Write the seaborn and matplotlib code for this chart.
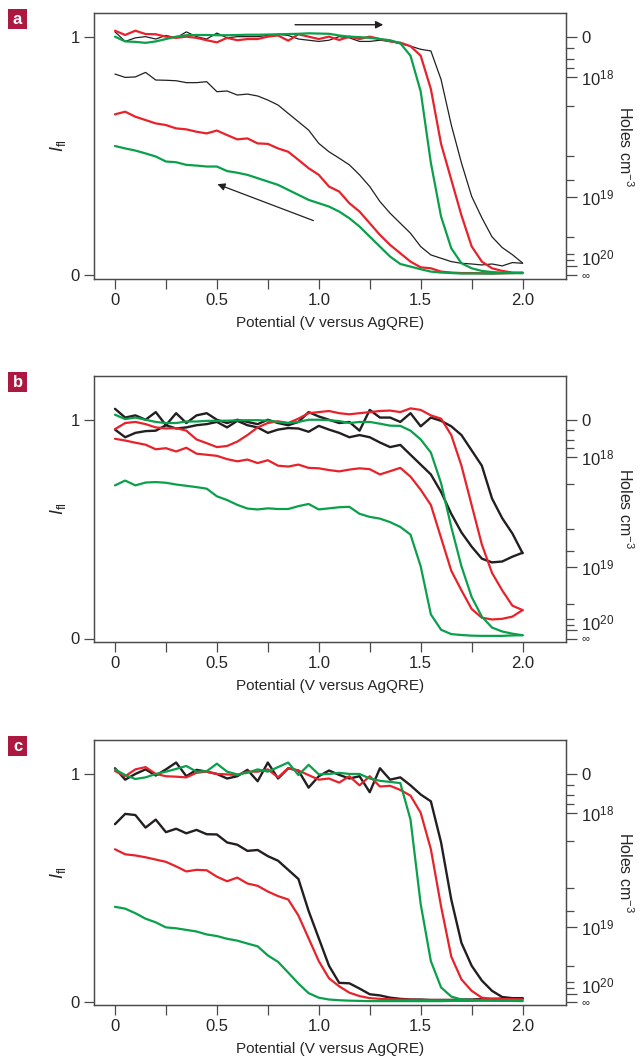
import numpy as np
import pandas as pd
import matplotlib
matplotlib.use("Agg")
import matplotlib.pyplot as plt
from matplotlib import font_manager
from matplotlib.patches import Rectangle
import seaborn as sns

# potential grid (V versus AgQRE), one sample every 0.05 V
potential = np.round(np.linspace(0.0, 2.0, 41), 2)

# panel a : fluorescence intensity, forward (upper) and reverse (lower) scans
a_black_fwd = [1.02, 0.98, 0.995, 1.0, 0.99, 1.005, 0.995, 1.02, 1.0, 0.99, 1.015, 0.995, 1.0, 1.0,
               1.0, 1.005, 1.01, 1.005, 0.99, 0.985, 0.98, 0.985, 1.0, 0.995, 0.98, 0.98, 0.985, 0.98,
               0.97, 0.96, 0.947, 0.94, 0.82, 0.63, 0.47, 0.33, 0.24, 0.16, 0.115, 0.085, 0.05]
a_black_rev = [0.843, 0.829, 0.831, 0.850, 0.818, 0.817, 0.815, 0.807, 0.807, 0.811, 0.769, 0.772,
               0.755, 0.759, 0.751, 0.734, 0.713, 0.678, 0.643, 0.608, 0.552, 0.517, 0.49, 0.462,
               0.42, 0.371, 0.308, 0.259, 0.217, 0.175, 0.119, 0.084, 0.07, 0.056, 0.049, 0.046,
               0.042, 0.046, 0.038, 0.052, 0.049]
a_red_fwd = [1.025, 1.007, 1.025, 1.011, 1.01, 1.0, 0.995, 1.0, 0.995, 0.985, 0.976, 0.995, 0.985,
             0.99, 0.99, 1.0, 1.005, 0.983, 1.01, 1.0, 0.99, 1.0, 0.986, 1.0, 0.99, 1.0, 0.99, 0.98,
             0.975, 0.96, 0.92, 0.78, 0.55, 0.40, 0.25, 0.12, 0.056, 0.028, 0.017, 0.01, 0.008]
a_red_rev = [0.674, 0.685, 0.664, 0.65, 0.636, 0.629, 0.615, 0.611, 0.601, 0.594, 0.606, 0.587,
             0.569, 0.573, 0.552, 0.55, 0.531, 0.517, 0.483, 0.448, 0.42, 0.371, 0.35, 0.301,
             0.266, 0.217, 0.168, 0.126, 0.091, 0.056, 0.032, 0.028, 0.014, 0.01, 0.008, 0.008,
             0.007, 0.006, 0.007, 0.008, 0.01]
a_green_fwd = [1.0, 0.98, 0.978, 0.974, 0.98, 0.99, 1.0, 1.006, 1.007, 1.007, 1.006, 1.006, 1.007,
               1.008, 1.008, 1.009, 1.01, 1.011, 1.012, 1.014, 1.013, 1.012, 1.005, 1.0, 0.998,
               0.995, 0.99, 0.985, 0.972, 0.92, 0.77, 0.47, 0.245, 0.112, 0.049, 0.028, 0.017,
               0.012, 0.01, 0.008, 0.008]
a_green_rev = [0.541, 0.531, 0.522, 0.51, 0.497, 0.476, 0.473, 0.462, 0.459, 0.455, 0.455, 0.436,
               0.429, 0.42, 0.406, 0.392, 0.378, 0.357, 0.336, 0.315, 0.301, 0.287, 0.266, 0.238,
               0.203, 0.161, 0.119, 0.077, 0.046, 0.035, 0.024, 0.014, 0.01, 0.008, 0.006, 0.006,
               0.006, 0.006, 0.007, 0.008, 0.008]

# panel b
b_black_up = [1.05, 1.01, 1.02, 1.0, 1.035, 0.975, 1.03, 0.985, 1.02, 1.03, 1.0, 0.985, 1.0, 0.99,
              0.98, 1.0, 0.985, 0.975, 0.99, 1.035, 1.015, 1.0, 0.985, 0.99, 0.95, 1.045, 1.01, 1.01,
              0.99, 1.03, 0.97, 1.01, 0.995, 0.97, 0.93, 0.86, 0.79, 0.64, 0.55, 0.48, 0.39]
b_black_lo = [0.955, 0.92, 0.94, 0.948, 0.95, 0.975, 0.96, 0.965, 0.975, 0.98, 0.99, 0.965, 0.995,
              0.975, 0.965, 0.94, 0.955, 0.962, 0.96, 0.945, 0.972, 0.955, 0.94, 0.92, 0.93, 0.92,
              0.896, 0.875, 0.885, 0.84, 0.795, 0.75, 0.67, 0.57, 0.485, 0.42, 0.365, 0.348, 0.352,
              0.374, 0.392]
b_red_up = [0.957, 0.985, 0.99, 0.98, 0.965, 0.96, 0.962, 0.95, 0.91, 0.893, 0.875, 0.88, 0.9,
            0.93, 0.965, 0.985, 0.993, 0.985, 1.005, 1.03, 1.035, 1.04, 1.03, 1.025, 1.03, 1.035,
            1.04, 1.042, 1.035, 1.052, 1.045, 1.02, 1.005, 0.93, 0.79, 0.61, 0.43, 0.30, 0.22,
            0.15, 0.13]
b_red_lo = [0.913, 0.905, 0.895, 0.886, 0.865, 0.87, 0.855, 0.872, 0.845, 0.84, 0.835, 0.82, 0.81,
            0.818, 0.802, 0.815, 0.79, 0.786, 0.795, 0.78, 0.778, 0.77, 0.764, 0.772, 0.778, 0.774,
            0.75, 0.765, 0.78, 0.74, 0.68, 0.61, 0.46, 0.31, 0.22, 0.135, 0.095, 0.087, 0.09,
            0.10, 0.13]
b_green_up = [1.023, 1.003, 1.01, 1.0, 0.99, 0.985, 0.985, 0.992, 0.992, 0.995, 0.995, 0.996,
              0.997, 0.998, 0.998, 0.996, 0.99, 0.985, 0.99, 1.0, 1.0, 0.998, 0.994, 0.985, 0.99,
              0.99, 0.982, 0.973, 0.972, 0.95, 0.91, 0.85, 0.71, 0.51, 0.33, 0.19, 0.10, 0.05,
              0.032, 0.022, 0.015]
b_green_lo = [0.70, 0.722, 0.70, 0.713, 0.715, 0.712, 0.704, 0.698, 0.692, 0.685, 0.65, 0.633,
              0.611, 0.594, 0.59, 0.595, 0.592, 0.592, 0.605, 0.615, 0.59, 0.595, 0.60, 0.602,
              0.57, 0.556, 0.548, 0.532, 0.51, 0.475, 0.33, 0.11, 0.04, 0.02, 0.016, 0.013, 0.012,
              0.012, 0.012, 0.014, 0.015]

# panel c
c_black_up = [1.025, 0.975, 1.0, 1.02, 0.993, 1.02, 1.05, 0.99, 1.018, 1.01, 1.0, 0.98, 0.99,
              1.018, 0.968, 1.05, 0.98, 1.025, 1.015, 0.94, 0.99, 1.015, 0.996, 0.98, 0.99, 0.92,
              1.025, 0.975, 0.985, 0.95, 0.91, 0.88, 0.70, 0.45, 0.26, 0.16, 0.095, 0.05, 0.023,
              0.018, 0.018]
c_black_lo = [0.78, 0.825, 0.82, 0.765, 0.80, 0.745, 0.76, 0.74, 0.755, 0.736, 0.735, 0.70, 0.69,
              0.663, 0.667, 0.64, 0.62, 0.58, 0.54, 0.40, 0.28, 0.16, 0.085, 0.083, 0.06, 0.035,
              0.03, 0.02, 0.015, 0.012, 0.012, 0.01, 0.01, 0.01, 0.012, 0.012, 0.014, 0.015, 0.016,
              0.017, 0.018]
c_red_up = [1.013, 0.99, 1.02, 1.03, 1.0, 0.99, 0.988, 0.985, 1.005, 1.01, 1.0, 0.998, 0.995,
            1.01, 1.01, 1.02, 0.985, 1.025, 1.015, 0.995, 0.975, 0.98, 0.962, 0.99, 0.95, 0.99,
            0.945, 0.948, 0.93, 0.905, 0.83, 0.67, 0.42, 0.20, 0.10, 0.05, 0.02, 0.015, 0.014,
            0.013, 0.012]
c_red_lo = [0.67, 0.648, 0.643, 0.635, 0.625, 0.615, 0.595, 0.573, 0.58, 0.578, 0.55, 0.53, 0.546,
            0.52, 0.51, 0.485, 0.465, 0.45, 0.38, 0.28, 0.18, 0.105, 0.07, 0.042, 0.027, 0.018,
            0.015, 0.013, 0.012, 0.011, 0.01, 0.01, 0.01, 0.01, 0.01, 0.01, 0.011, 0.011, 0.012,
            0.012, 0.012]
c_green_up = [1.02, 0.995, 0.978, 0.985, 1.0, 1.01, 1.022, 1.035, 1.01, 1.012, 1.045, 1.01, 0.998,
              1.005, 1.02, 1.01, 1.03, 1.05, 0.995, 1.04, 0.998, 1.0, 1.005, 1.0, 1.0, 0.98, 0.97,
              0.965, 0.96, 0.8, 0.43, 0.18, 0.065, 0.025, 0.012, 0.01, 0.008, 0.007, 0.006, 0.006,
              0.005]
c_green_lo = [0.418, 0.41, 0.39, 0.366, 0.35, 0.328, 0.324, 0.317, 0.31, 0.297, 0.29, 0.278, 0.27,
              0.257, 0.245, 0.205, 0.177, 0.13, 0.082, 0.04, 0.02, 0.012, 0.009, 0.007, 0.006,
              0.005, 0.005, 0.005, 0.005, 0.005, 0.005, 0.005, 0.005, 0.006, 0.006, 0.006, 0.007,
              0.007, 0.007, 0.008, 0.008]

# right axis: hole density scale, placed at the matching intensity
holes_major_pos = [1.0, 0.829, 0.329, 0.038, 0.0]
holes_major_lab = ["0", r"$10^{18}$", r"$10^{19}$", r"$10^{20}$", "\u221e"]
holes_minor_pos = [0.951, 0.907, 0.869, 0.708, 0.499, 0.398, 0.160, 0.089, 0.063]

x_ticks = [0, 0.5, 1.0, 1.5, 2.0]
x_tick_labels = ["0", "0.5", "1.0", "1.5", "2.0"]

BLACK = "#231f20"
RED = "#e8222a"
GREEN = "#0aa04b"
AXIS = "#4a4a4a"

panels = [
    ("a", (-0.017, 1.098), 13.3, 279.0, 0.9,
     [(a_black_fwd, BLACK), (a_black_rev, BLACK), (a_red_fwd, RED), (a_red_rev, RED),
      (a_green_fwd, GREEN), (a_green_rev, GREEN)]),
    ("b", (-0.016, 1.20), 376.0, 642.0, 1.7,
     [(b_black_up, BLACK), (b_black_lo, BLACK), (b_red_up, RED), (b_red_lo, RED),
      (b_green_up, GREEN), (b_green_lo, GREEN)]),
    ("c", (-0.012, 1.15), 739.7, 1005.0, 1.7,
     [(c_black_up, BLACK), (c_black_lo, BLACK), (c_red_up, RED), (c_red_lo, RED),
      (c_green_up, GREEN), (c_green_lo, GREEN)]),
]

sns.set_style("ticks")
names = {f.name for f in font_manager.fontManager.ttflist}
FONT = "Liberation Sans Narrow" if "Liberation Sans Narrow" in names else "Liberation Sans"
plt.rcParams["font.family"] = [FONT, "DejaVu Sans"]
plt.rcParams["mathtext.fontset"] = "custom"
plt.rcParams["mathtext.rm"] = FONT
plt.rcParams["mathtext.it"] = FONT + ":italic"
plt.rcParams["mathtext.sf"] = FONT

W, H = 642, 1059
fig = plt.figure(figsize=(W / 100, H / 100), dpi=100)

for letter, ylim, top_px, bot_px, black_lw, curves in panels:
    ax = fig.add_axes([94 / W, 1 - bot_px / H, (566 - 94) / W, (bot_px - top_px) / H])
    for values, colour in curves:
        lw = black_lw if colour == BLACK else 1.6
        df = pd.DataFrame({"potential": potential, "intensity": values})
        sns.lineplot(data=df, x="potential", y="intensity", color=colour, lw=lw, ax=ax,
                     estimator=None, sort=False)

    ax.set_xlim(-0.103, 2.213)
    ax.set_ylim(*ylim)
    ax.set_xticks(x_ticks)
    ax.set_xticklabels(x_tick_labels)
    ax.set_xticks([0.25, 0.75, 1.25, 1.75], minor=True)
    ax.set_yticks([0, 1])
    ax.set_yticklabels(["0", "1"])
    ax.tick_params(axis="both", which="both", direction="out", length=7, width=0.9,
                   color=AXIS, labelsize=12, pad=3)
    ax.tick_params(axis="y", which="minor", left=False)
    ax.set_xlabel("Potential (V versus AgQRE)", fontsize=11, labelpad=6)
    ax.set_ylabel(r"$I_{\mathrm{fl}}$", fontsize=13, labelpad=2)
    for s in ax.spines.values():
        s.set_color(AXIS)
        s.set_linewidth(0.9)

    ax2 = ax.twinx()
    ax2.set_ylim(*ylim)
    ax2.set_yticks(holes_major_pos)
    ax2.set_yticklabels(holes_major_lab)
    ax2.set_yticks(holes_minor_pos, minor=True)
    ax2.tick_params(axis="y", which="major", length=8, width=0.9, color=AXIS, labelsize=12, pad=3)
    ax2.tick_params(axis="y", which="minor", length=6, width=0.9, color=AXIS)
    for lab in ax2.get_yticklabels():
        if lab.get_text() == "\u221e":
            lab.set_fontsize(8)
            lab.set_va("center")
        elif "20" in lab.get_text():
            lab.set_va("baseline")
    ax2.set_ylabel(r"Holes cm$^{-3}$", rotation=270, va="bottom", fontsize=11.5, labelpad=1)
    for s in ax2.spines.values():
        s.set_color(AXIS)
        s.set_linewidth(0.9)

    # panel letter on a crimson square
    fig.add_artist(Rectangle((8 / W, 1 - (top_px + 16) / H), 19 / W, 20 / H,
                             transform=fig.transFigure, fc="#ad1840", ec="none"))
    fig.text(17.5 / W, 1 - (top_px + 6.5) / H, letter, color="white", fontsize=12,
             fontweight="bold", ha="center", va="center")

    if letter == "a":
        ax.annotate("", xy=(1.33, 1.05), xytext=(0.87, 1.05),
                    arrowprops=dict(arrowstyle="-|>", color=BLACK, lw=1.0, mutation_scale=11))
        ax.annotate("", xy=(0.49, 0.385), xytext=(0.986, 0.224),
                    arrowprops=dict(arrowstyle="-|>", color=BLACK, lw=0.9, mutation_scale=11))

fig.savefig("out.png", dpi=100)
